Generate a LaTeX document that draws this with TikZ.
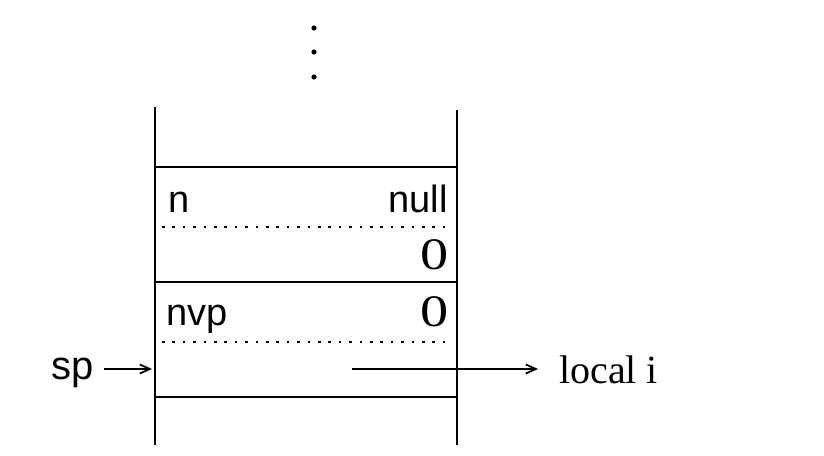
\documentclass[tikz,border=0pt]{standalone}
\usepackage{fontspec}
\setmainfont{Liberation Serif}
\setsansfont{Liberation Sans}
\usepackage{tikz}
\usetikzlibrary{positioning, arrows.meta}

\begin{document}
\begin{tikzpicture}[
x=1pt, y=-1pt,
sanslabel/.style={
  font=\sffamily\fontsize{38}{40}\selectfont,
  inner sep=0pt
},
seriflabel/.style={
  font=\fontsize{40}{42}\selectfont,
  inner sep=0pt
},
wall/.style={line width=1.8pt},
slotsep/.style={line width=2.6pt, dash pattern=on 2.6pt off 7.8pt},
>={Straight Barb[length=10pt,width=9pt]}
]
\useasboundingbox (0,0) rectangle (824,455);

% the stack
\draw[wall] (155,107) -- (155,445);
\draw[wall] (457,110) -- (457,445);
\foreach \y in {167,282,397}
    \draw[wall] (155,\y) -- (457,\y);
\foreach \y in {227,342}
    \draw[slotsep] (162,\y) -- (452,\y);
\foreach \y in {28,52,77}
    \fill (314,\y) circle (2.6pt);

\node[sanslabel, anchor=base west] (n) at (168,212)
    {n};
\node[sanslabel, anchor=base east] (null) at (448,212)
    {null};
\node[seriflabel, font=\fontsize{45}{47}\selectfont, anchor=base east] (zeroa) at (449,269)
    {\scalebox{1.25}[1]{0}};
\node[sanslabel, anchor=base west] (nvp) at (166,325)
    {nvp};
\node[seriflabel, font=\fontsize{45}{47}\selectfont, anchor=base east] (zerob) at (449,326)
    {\scalebox{1.25}[1]{0}};

% pointers
\coordinate (sptip) at (152,369);
\coordinate (slot) at (352,369);
\node[sanslabel, font=\sffamily\fontsize{40}{42}\selectfont, anchor=base west] (sp) at (51,379)
    {sp};
\node[seriflabel, anchor=base west] (locali) at (559,383)
    {local i};

\draw[->,wall] ([xshift=10pt]sp.east |- sptip) -- (sptip);
\draw[->,wall] (slot) -- ([xshift=-21pt]locali.west |- slot);
\end{tikzpicture}
\end{document}
